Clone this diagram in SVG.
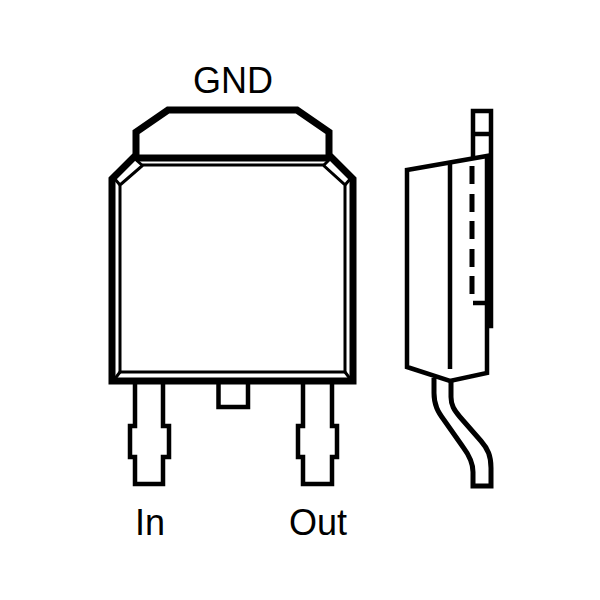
<svg xmlns="http://www.w3.org/2000/svg" width="600" height="600" viewBox="0 0 600 600">
<style>
.l{fill:none;stroke:#000;stroke-linejoin:miter;stroke-linecap:butt}
.k{stroke-width:7}.m{stroke-width:4.500}.t{stroke-width:3}.d{stroke-width:5}
text{font-family:"Liberation Sans",Arial,sans-serif;font-size:36px;fill:#000}
</style>
<rect width="600" height="600" fill="#fff"/>
<g id="front-package">
<path class="l k" d="M136 158V132L168 110H297L329 132V158"/>
<path class="l k" d="M136 158H329"/>
<path class="l k" d="M135 156L112 179V381H353V179L330 156"/>
<path class="l t" d="M120 185L143 165H323L345 185V372H120Z"/>
<path class="l t" d="M114 178L120 185M351 178L345 185M114 380L120 372M351 380L345 372M134 158L143 166M331 158L323 166"/>
</g>
<g id="pin-in">
<path class="l m" d="M135 384V426H130V457H135V484H163V457H169V426H163V384"/>
</g>
<g id="pin-out">
<path class="l m" d="M303 384V426H298V457H303V484H332V457H337V426H332V384"/>
</g>
<g id="pin-center">
<path class="l m" d="M218.500 384V407H248V384"/>
</g>
<g id="side-package">
<path class="l m" d="M473 158V111H491V326H485M473 134H491"/>
<path class="l m" d="M407 170L487 156V373L450 381L407 367Z"/>
<path class="l m" d="M450 164V369"/>
<path class="l d" d="M472 166V184M472 194V212M472 221V239M472 249V267M472 276V294"/>
<path class="l m" d="M473 303H491"/>
<path class="l d" d="M434 378V393C434 405 438 412 444 420L463 447C469 455 473 462 473 472V486H491V468C491 456 488 449 481 441L460 417C454 410 451 405 451 397V381"/>
</g>
<g id="labels">
<text x="193" y="93">GND</text>
<text x="135" y="535">In</text>
<text x="289" y="535">Out</text>
</g>
</svg>
